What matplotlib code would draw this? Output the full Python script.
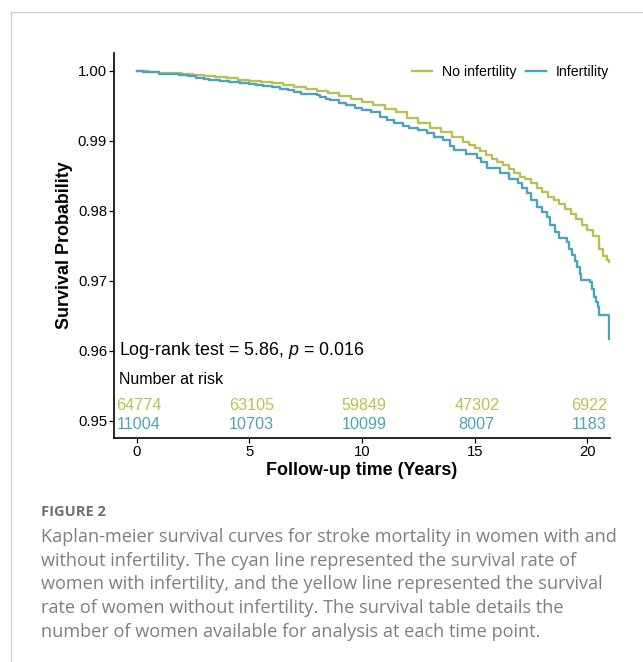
import matplotlib
matplotlib.use("Agg")
import matplotlib.pyplot as plt
from matplotlib.lines import Line2D
from matplotlib.transforms import ScaledTranslation

# ---- data ----
groups = ["No infertility", "Infertility"]
colors = ["#BBC054", "#4CA3BC"]

no_inf_t = [0, 0.5, 1.0, 1.5, 2.0, 2.5, 3.0, 3.5, 4.0, 4.5, 5.0, 5.5, 6.0, 6.5, 7.0, 7.5, 8.0,
            8.5, 9.0, 9.5, 10.0, 10.5, 11.0, 11.5, 12.0, 12.5, 13.0, 13.5, 14.0, 14.5, 14.75,
            15.0, 15.25, 15.5, 15.75, 16.0, 16.25, 16.5, 16.75, 17.0, 17.25, 17.5, 17.75, 18.0,
            18.25, 18.5, 18.75, 19.0, 19.25, 19.5, 19.75, 20.0, 20.25, 20.5, 20.7, 20.85, 20.95]
no_inf_s = [1.0, 0.99990, 0.99975, 0.99965, 0.99953, 0.99940, 0.99928, 0.99912, 0.99895,
            0.99878, 0.99862, 0.99847, 0.99828, 0.99805, 0.99777, 0.99748, 0.99716, 0.99682,
            0.99645, 0.99604, 0.99560, 0.99508, 0.99460, 0.99408, 0.99335, 0.99258, 0.99185,
            0.99125, 0.99060, 0.98985, 0.98945, 0.98895, 0.98850, 0.98800, 0.98745, 0.98700,
            0.98650, 0.98600, 0.98545, 0.98490, 0.98455, 0.98395, 0.98330, 0.98265, 0.98205,
            0.98150, 0.98095, 0.98030, 0.97960, 0.97880, 0.97800, 0.97730, 0.97640, 0.97450,
            0.97360, 0.97300, 0.97265]

inf_t = [0, 0.3, 0.6, 1.0, 1.5, 1.9, 2.3, 2.65, 3.0, 3.2, 3.7, 4.1, 4.6, 5.0, 5.3, 5.6, 6.0,
         6.35, 6.7, 7.0, 7.3, 8.0, 8.15, 8.4, 8.6, 9.0, 9.3, 9.7, 10.0, 10.4, 10.8, 11.1, 11.4,
         11.8, 12.1, 12.5, 12.9, 13.2, 13.6, 13.9, 14.1, 14.6, 15.1, 15.3, 15.55, 16.1, 16.5,
         16.9, 17.1, 17.3, 17.5, 17.75, 18.0, 18.2, 18.35, 18.55, 18.75, 19.1, 19.2, 19.3,
         19.45, 19.55, 19.65, 19.7, 20.1, 20.2, 20.3, 20.4, 20.45, 20.5, 20.95]
inf_s = [1.0, 0.99990, 0.99985, 0.99960, 0.99950, 0.99938, 0.99925, 0.99905, 0.99885, 0.99867,
         0.99855, 0.99843, 0.99832, 0.99820, 0.99805, 0.99786, 0.99770, 0.99748, 0.99722,
         0.99700, 0.99676, 0.99650, 0.99628, 0.99600, 0.99581, 0.99545, 0.99510, 0.99470,
         0.99438, 0.99410, 0.99347, 0.99300, 0.99252, 0.99220, 0.99181, 0.99150, 0.99110,
         0.99060, 0.99014, 0.98930, 0.98871, 0.98820, 0.98753, 0.98700, 0.98610, 0.98538,
         0.98460, 0.98396, 0.98330, 0.98253, 0.98160, 0.98061, 0.97990, 0.97919, 0.97800,
         0.97700, 0.97610, 0.97562, 0.97460, 0.97371, 0.97280, 0.97204, 0.97100, 0.97014,
         0.96990, 0.96880, 0.96776, 0.96700, 0.96633, 0.96514, 0.96170]

risk_times = [0, 5, 10, 15, 20]
risk_no_inf = [64774, 63105, 59849, 47302, 6922]
risk_inf = [11004, 10703, 10099, 8007, 1183]

x_ticks = [0, 5, 10, 15, 20]
y_ticks = [0.95, 0.96, 0.97, 0.98, 0.99, 1.00]

logrank_text = r"Log-rank test = 5.86, $\it{p}$ = 0.016"
caption_head = "FIGURE 2"
caption_lines = [
    "Kaplan-meier survival curves for stroke mortality in women with and",
    "without infertility. The cyan line represented the survival rate of",
    "women with infertility, and the yellow line represented the survival",
    "rate of women without infertility. The survival table details the",
    "number of women available for analysis at each time point.",
]

# ---- figure ----
plt.rcParams['font.family'] = ['Liberation Sans', 'DejaVu Sans']
plt.rcParams['mathtext.fontset'] = 'custom'
plt.rcParams['mathtext.it'] = 'Liberation Sans:italic'
plt.rcParams['mathtext.rm'] = 'Liberation Sans'

W, H = 643, 662
fig = plt.figure(figsize=(W / 100, H / 100), dpi=100)

# light frame of the figure panel
fig.add_artist(Line2D([11 / W, 1.0], [1 - 12 / H, 1 - 12 / H], color="#cfcfcf", lw=1.0))
fig.add_artist(Line2D([11 / W, 11 / W], [0, 1 - 12 / H], color="#cfcfcf", lw=1.0))

ax = fig.add_axes([114 / W, 1 - 438 / H, (610 - 114) / W, (438 - 53) / H])

ax.step(no_inf_t, no_inf_s, where="post", color=colors[0], lw=1.7, label=groups[0])
ax.step(inf_t, inf_s, where="post", color=colors[1], lw=1.7, label=groups[1])

ax.set_xlim(-1, 21)
ax.set_ylim(0.94757, 1.00257)
ax.set_xticks(x_ticks)
ax.set_yticks(y_ticks)
ax.set_yticklabels([f"{v:.2f}" for v in y_ticks])
ax.tick_params(axis="both", direction="out", length=3.5, width=0.9, labelsize=10.7,
               colors="black", pad=1.5)
for s in ["top", "right"]:
    ax.spines[s].set_visible(False)
for s in ["left", "bottom"]:
    ax.spines[s].set_linewidth(1.2)

ax.set_xlabel("Follow-up time (Years)", fontsize=12.9, fontweight="bold", labelpad=2.5)
ax.set_ylabel("Survival Probability", fontsize=12.9, fontweight="bold", labelpad=3.5)

ax.text(-0.8, 0.9600, logrank_text, fontsize=12.9, va="center", ha="left")
ax.text(-0.8, 0.9559, "Number at risk", fontsize=11.5, va="center", ha="left")
shift = ax.transData + ScaledTranslation(2 / 100, 0, fig.dpi_scale_trans)
for t, a, b in zip(risk_times, risk_no_inf, risk_inf):
    ax.text(t, 0.95215, str(a), color=colors[0], fontsize=11.6, ha="center", va="center",
            transform=shift)
    ax.text(t, 0.94955, str(b), color=colors[1], fontsize=11.6, ha="center", va="center",
            transform=shift)

ax.legend(ncol=2, frameon=False, loc="center right", bbox_to_anchor=(0.998, 0.9506),
          fontsize=10.2, handlelength=1.4, handletextpad=0.7, columnspacing=0.7,
          borderpad=0, borderaxespad=0)

# caption
fig.text(41 / W, 1 - 512 / H, caption_head, fontsize=10.5, fontweight="bold",
         color="#6f6f6f", family=["Open Sans", "DejaVu Sans"], va="center", ha="left")
for i, line in enumerate(caption_lines):
    fig.text(41 / W, 1 - (537 + i * 23.7) / H, line, fontsize=13.1, color="#7f7f7f",
             family=["Open Sans", "DejaVu Sans"], va="center", ha="left")

fig.savefig("out.png", dpi=100)
